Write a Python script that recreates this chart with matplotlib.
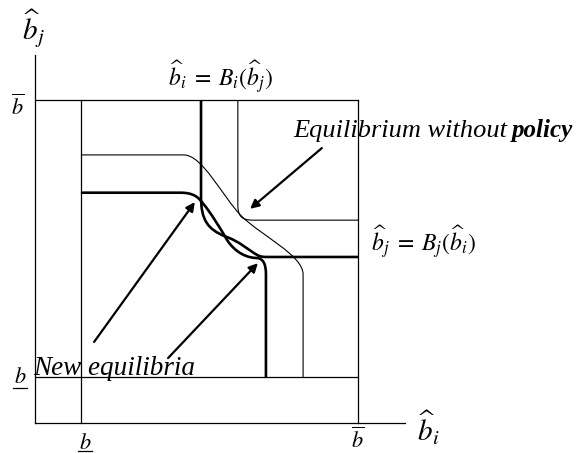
import matplotlib
matplotlib.use("Agg")
import matplotlib.pyplot as plt
from matplotlib.path import Path
from matplotlib.patches import PathPatch

plt.rcParams['mathtext.fontset'] = 'stix'

# ---- data (units: b_upper = 1) ----
b_low = 0.142
b_high = 1.0
axis_top = 1.139
axis_right = 1.146

M, L, C = Path.MOVETO, Path.LINETO, Path.CURVE4

# old best response (thin, L-shaped)
thin_L_pts = [(0.628, 1.0), (0.628, 0.675), (0.628, 0.64), (0.64, 0.628),
              (0.675, 0.628), (1.0, 0.628)]
thin_L_codes = [M, L, C, C, C, L]

# old best response (thin, sigmoid)
thin_S_pts = [(0.142, 0.83), (0.46, 0.83), (0.52, 0.83), (0.58, 0.70), (0.64, 0.64),
              (0.70, 0.58), (0.83, 0.52), (0.83, 0.46), (0.83, 0.142)]
thin_S_codes = [M, L, C, C, C, C, C, C, L]

# new best response (thick, from horizontal to vertical)
thick_A_pts = [(0.142, 0.713), (0.45, 0.713),
               (0.49, 0.713), (0.505, 0.70), (0.52, 0.68),
               (0.545, 0.65), (0.572, 0.605), (0.588, 0.578),
               (0.605, 0.545), (0.64, 0.512), (0.685, 0.511),
               (0.705, 0.51), (0.715, 0.495), (0.715, 0.46),
               (0.715, 0.142)]
thick_A_codes = [M, L, C, C, C, C, C, C, C, C, C, C, C, C, L]

# new best response (thick, from vertical to horizontal)
thick_B_pts = [(0.514, 1.0), (0.514, 0.70),
               (0.514, 0.628), (0.535, 0.60), (0.588, 0.578),
               (0.635, 0.562), (0.66, 0.535), (0.69, 0.519),
               (0.70, 0.514), (0.71, 0.514), (0.72, 0.514),
               (1.0, 0.514)]
thick_B_codes = [M, L, C, C, C, C, C, C, C, C, C, L]

# arrows: (tail, tip)
arrow_old = ((0.888, 0.851), (0.666, 0.663))
arrow_new1 = ((0.183, 0.251), (0.495, 0.684))
arrow_new2 = ((0.412, 0.201), (0.690, 0.495))

# ---- figure ----
W, H = 583, 453
fig = plt.figure(figsize=(W / 100, H / 100), dpi=100)
ax = fig.add_axes([0, 0, 1, 1])
s = 323.0
ax.set_xlim(-35 / s, (W - 35) / s)
ax.set_ylim(-(H - 423) / s, 423 / s)
ax.axis('off')

k = 'black'
# axes
ax.plot([0, 0], [0, axis_top], color=k, lw=0.9)
ax.plot([0, axis_right], [0, 0], color=k, lw=0.9)
# box
ax.plot([0, b_high], [b_high, b_high], color=k, lw=0.9)
ax.plot([b_high, b_high], [0, b_high], color=k, lw=0.9)
ax.plot([0, b_high], [b_low, b_low], color=k, lw=0.9)
ax.plot([b_low, b_low], [0, b_high], color=k, lw=0.9)

for pts, codes, lw in [(thin_L_pts, thin_L_codes, 0.8), (thin_S_pts, thin_S_codes, 0.8),
                       (thick_A_pts, thick_A_codes, 1.9), (thick_B_pts, thick_B_codes, 1.9)]:
    ax.add_patch(PathPatch(Path(pts, codes), fill=False, lw=lw, edgecolor=k,
                           capstyle='butt', joinstyle='round'))

for tail, tip in [arrow_old, arrow_new1, arrow_new2]:
    ax.annotate('', xy=tip, xytext=tail,
                arrowprops=dict(arrowstyle='-|>', lw=1.6, color=k,
                                mutation_scale=13, shrinkA=0, shrinkB=0))

serif = ['Liberation Serif', 'DejaVu Serif']
t1 = ax.text(0.799, 0.885, 'Equilibrium without', family=serif, style='italic',
             fontsize=19, ha='left', va='baseline')
fig.canvas.draw()
bb = t1.get_window_extent()
x_policy = ax.transData.inverted().transform((bb.x1 + 5, 0))[0]
ax.text(x_policy, 0.885, 'policy', family=serif, style='italic', weight='bold',
        fontsize=18, ha='left', va='baseline')
ax.text(-0.006, 0.149, 'New equilibria', family=serif, style='italic',
        fontsize=19.5, ha='left', va='baseline')

ax.text(0.573, 1.040, r'$\widehat{b}_i\;=\;B_i(\widehat{b}_j)$', fontsize=17,
        ha='center', va='baseline')
ax.text(1.040, 0.529, r'$\widehat{b}_j\;=\;B_j(\widehat{b}_i)$', fontsize=17,
        ha='left', va='baseline')

ax.text((33 - 35) / s, (423 - 28) / s, r'$\widehat{b}_j$', fontsize=21, ha='center', va='center')
ax.text((428 - 35) / s, (423 - 428) / s, r'$\widehat{b}_i$', fontsize=21, ha='center', va='center')

ax.text((18 - 35) / s, (423 - 106) / s, r'$\overline{b}$', fontsize=16, ha='center', va='center')
ax.text(b_high, (423 - 439) / s, r'$\overline{b}$', fontsize=16, ha='center', va='center')
ax.text((20 - 35) / s, (423 - 377) / s, r'$b$', fontsize=16, ha='center', va='center')
ax.plot([(13 - 35) / s, (27 - 35) / s], [(423 - 388) / s] * 2, color=k, lw=0.9)
ax.text((85 - 35) / s, (423 - 443) / s, r'$b$', fontsize=16, ha='center', va='center')
ax.plot([(78 - 35) / s, (92 - 35) / s], [(423 - 451) / s] * 2, color=k, lw=0.9)

fig.savefig('out.png', dpi=100)
